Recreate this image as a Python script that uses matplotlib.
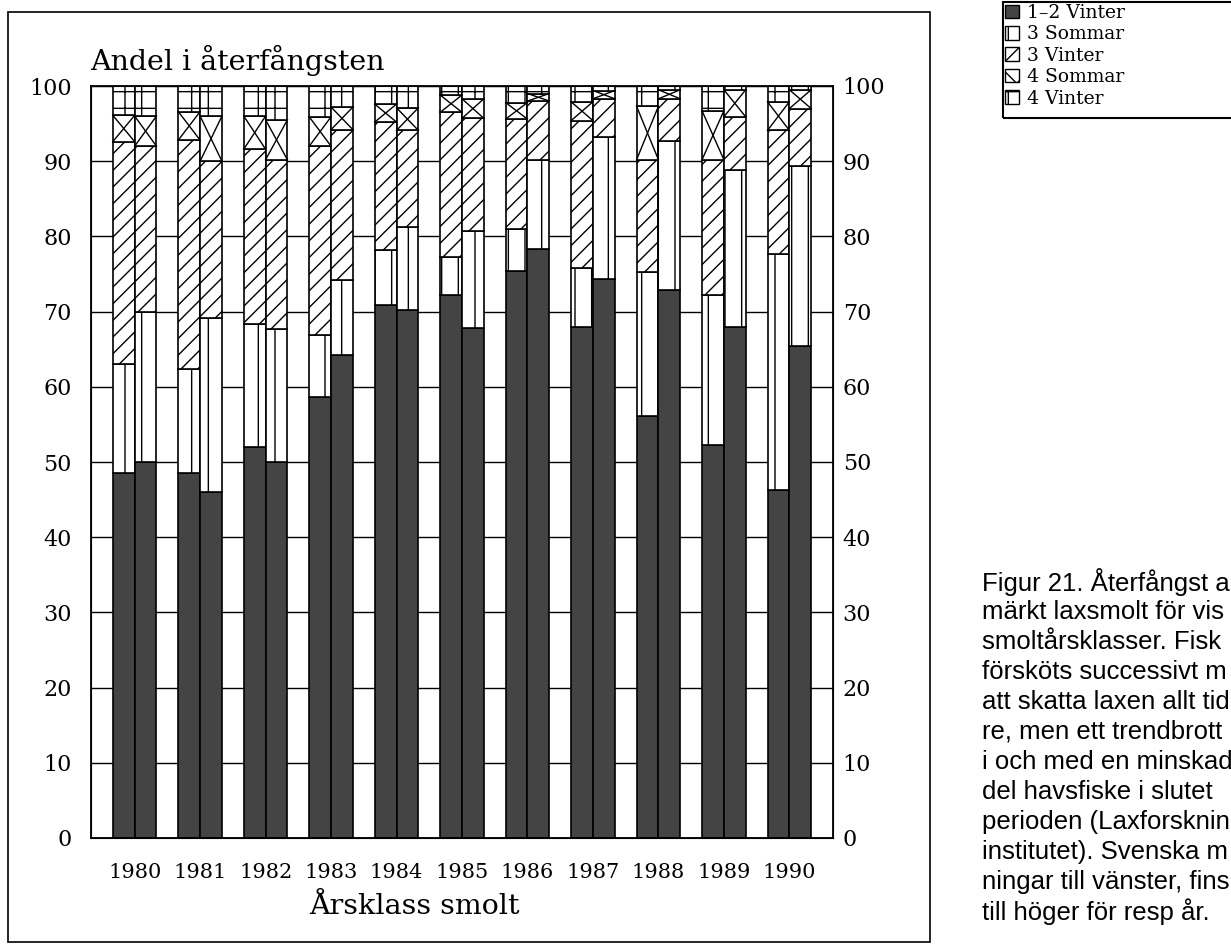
import matplotlib.pyplot as plt
import numpy as np
from matplotlib.patches import Patch, Rectangle

years = ['1980', '1981', '1982', '1983', '1984', '1985', '1986', '1987', '1988', '1989', '1990']
categories = ['1–2 Vinter', '3 Sommar', '3 Vinter', '4 Sommar', '4 Vinter']

# Svenska märkningar (vänster stapel i varje par), procent av återfångsten
se_v12 = [48.5, 48.6, 52.0, 58.7, 70.9, 72.2, 75.4, 67.9, 56.1, 52.2, 46.3]
se_s3 = [14.5, 13.8, 16.3, 8.2, 7.3, 5.0, 5.6, 7.9, 19.2, 20.0, 31.3]
se_v3 = [29.6, 30.4, 23.3, 25.1, 17.0, 19.3, 14.6, 19.6, 14.9, 18.0, 16.5]
se_s4 = [3.5, 3.8, 4.4, 3.9, 2.4, 2.3, 2.2, 2.5, 7.1, 6.5, 3.8]
se_v4 = [3.9, 3.4, 4.0, 4.1, 2.4, 1.2, 2.2, 2.1, 2.7, 3.3, 2.1]

# Finska märkningar (höger stapel)
fi_v12 = [50.0, 46.0, 50.0, 64.2, 70.2, 67.8, 78.3, 74.3, 72.9, 68.0, 65.4]
fi_s3 = [20.0, 23.1, 17.7, 10.0, 11.1, 12.9, 11.9, 18.9, 19.8, 20.8, 23.9]
fi_v3 = [22.0, 20.9, 22.5, 20.0, 12.8, 15.0, 7.8, 5.1, 5.6, 7.1, 7.7]
fi_s4 = [4.0, 6.0, 5.3, 3.0, 3.0, 2.6, 1.0, 1.1, 1.2, 3.6, 2.5]
fi_v4 = [4.0, 4.0, 4.5, 2.8, 2.9, 1.7, 1.0, 0.6, 0.5, 0.5, 0.5]

yticks = [0, 10, 20, 30, 40, 50, 60, 70, 80, 90, 100]

# figure caption as printed beside the chart (runs off the page edge)
caption = [
    'Figur 21. Återfångst a',
    'märkt laxsmolt för vis',
    'smoltårsklasser. Fisk',
    'försköts successivt m',
    'att skatta laxen allt tid',
    're, men ett trendbrott',
    'i och med en minskad',
    'del havsfiske i slutet',
    'perioden (Laxforsknin',
    'institutet). Svenska m',
    'ningar till vänster, fins',
    'till höger för resp år.',
]

W, H = 1231, 947
serif = 'DejaVu Serif'
plt.rcParams['hatch.linewidth'] = 1.0

fig = plt.figure(figsize=(W / 100, H / 100), dpi=100)
ax = fig.add_axes([91 / W, 1 - 838 / H, 742 / W, 752 / H])

# fill + hatch for each category
styles = [
    dict(facecolor='#444444', hatch=None),
    dict(facecolor='white', hatch='|'),
    dict(facecolor='white', hatch='//'),
    dict(facecolor='white', hatch=None),
    dict(facecolor='white', hatch='+'),
]

group = np.arange(len(years)) * 3
se_x = group + 1.5
fi_x = group + 2.5

for pos, series in [(se_x, [se_v12, se_s3, se_v3, se_s4, se_v4]),
                    (fi_x, [fi_v12, fi_s3, fi_v3, fi_s4, fi_v4])]:
    bottom = np.zeros(len(years))
    for k, vals in enumerate(series):
        vals = np.array(vals)
        ax.bar(pos, vals, width=1.0, bottom=bottom, edgecolor='black',
               linewidth=1.2, zorder=2, **styles[k])
        if k == 3:
            # 4 Sommar: one cross per segment, corner to corner
            for xc, b, v in zip(pos, bottom, vals):
                ax.plot([xc - 0.5, xc + 0.5], [b, b + v], color='black', lw=1.0, zorder=3)
                ax.plot([xc - 0.5, xc + 0.5], [b + v, b], color='black', lw=1.0, zorder=3)
        bottom += vals

ax.set_xlim(0, 34)
ax.set_ylim(0, 100)
ax.set_yticks(yticks)
ax.yaxis.grid(True, color='black', linewidth=1.0)
ax.set_axisbelow(True)
ax.set_xticks(group + 2)
ax.set_xticklabels(years, fontsize=15, family=serif)
ax.tick_params(axis='x', length=0, pad=18)
ax.tick_params(axis='y', length=0, pad=14, labelsize=16)
for lab in ax.get_yticklabels():
    lab.set_family(serif)
for sp in ax.spines.values():
    sp.set_linewidth(1.3)

ax2 = ax.twinx()
ax2.set_ylim(0, 100)
ax2.set_yticks(yticks)
ax2.tick_params(axis='y', length=0, pad=7, labelsize=16)
for lab in ax2.get_yticklabels():
    lab.set_family(serif)

fig.text(90 / W, 1 - 60 / H, 'Andel i återfångsten', fontsize=20.5, family=serif,
         ha='left', va='center')
fig.text(414 / W, 1 - 906 / H, 'Årsklass smolt', fontsize=20.5, family=serif,
         ha='center', va='center')

# outer frame around the chart
fig.add_artist(Rectangle((8 / W, 1 - 942 / H), 922 / W, 930 / H, fill=False,
                         edgecolor='black', linewidth=1.2, transform=fig.transFigure))

# legend box, running off the right edge
fig.add_artist(Rectangle((1003 / W, 1 - 118 / H), 0.3, 116 / H, fill=False,
                         edgecolor='black', linewidth=1.5, transform=fig.transFigure))
handles = []
for k, name in enumerate(categories):
    st = dict(styles[k])
    if k == 3:
        st['hatch'] = 'x'
    handles.append(Patch(edgecolor='black', linewidth=1.0, **st))
fig.legend(handles, categories, loc='upper left', bbox_to_anchor=(1005 / W, 1 - 4 / H),
           frameon=False, handlelength=0.75, handleheight=0.75, labelspacing=0.18,
           handletextpad=0.4, borderaxespad=0, borderpad=0,
           prop={'family': serif, 'size': 13.5})

for i, line in enumerate(caption):
    fig.text(982 / W, 1 - (582 + 30 * i) / H, line, fontsize=18.5,
             family='Liberation Sans', ha='left', va='center')

fig.savefig('out.png', dpi=100)
